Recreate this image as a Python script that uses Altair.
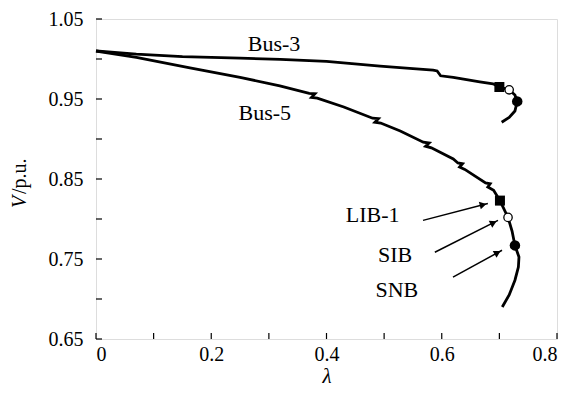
import altair as alt
import pandas as pd

# ---- data ----
bus3_lam = [0.000, 0.070, 0.150, 0.250, 0.320, 0.400, 0.493, 0.550, 0.585, 0.592, 0.598, 0.620,
            0.666, 0.689, 0.700, 0.717, 0.727, 0.731, 0.727, 0.717, 0.704]
bus3_v = [1.010, 1.006, 1.003, 1.001, 0.9995, 0.997, 0.991, 0.988, 0.986, 0.985, 0.979, 0.977,
          0.9715, 0.969, 0.965, 0.9615, 0.955, 0.947, 0.935, 0.927, 0.921]

bus5_lam = [0.000, 0.070, 0.163, 0.250, 0.319, 0.370, 0.380, 0.374, 0.384, 0.430, 0.480, 0.490,
            0.484, 0.494, 0.528, 0.568, 0.578, 0.572, 0.582, 0.620, 0.628, 0.636, 0.631, 0.640,
            0.676, 0.684, 0.680, 0.690, 0.701, 0.715, 0.722, 0.727, 0.734, 0.733, 0.727, 0.717, 0.705]
bus5_v = [1.010, 1.002, 0.989, 0.977, 0.9665, 0.957, 0.9565, 0.952, 0.951, 0.940, 0.926, 0.9255,
          0.921, 0.920, 0.910, 0.896, 0.895, 0.891, 0.889, 0.875, 0.870, 0.869, 0.865, 0.862,
          0.845, 0.844, 0.840, 0.836, 0.823, 0.802, 0.785, 0.767, 0.7525, 0.740, 0.7235, 0.705, 0.690]

# special points: LIB-1 (square), SIB (open circle), SNB (filled circle)
lib_lam = [0.700, 0.701]
lib_v = [0.965, 0.823]
sib_lam = [0.717, 0.715]
sib_v = [0.9615, 0.802]
snb_lam = [0.731, 0.727]
snb_v = [0.947, 0.767]

# labels
label_text = ["Bus-3", "Bus-5", "LIB-1", "SIB", "SNB"]
label_lam = [0.309, 0.293, 0.480, 0.519, 0.522]
label_v = [1.019, 0.933, 0.8045, 0.755, 0.711]

# arrows (start -> tip), head centre and direction
arrow_lam0 = [0.5675, 0.588, 0.6195]
arrow_v0 = [0.7983, 0.7584, 0.7273]
arrow_lam1 = [0.680, 0.6976, 0.7046]
arrow_v1 = [0.8195, 0.7983, 0.7609]
head_lam = [0.6717, 0.6898, 0.6969]
head_v = [0.8178, 0.7954, 0.7579]
head_angle = [345.3, 333.1, 331.1]

x_ticks = [0, 0.1, 0.2, 0.3, 0.4, 0.5, 0.6, 0.7, 0.8]
x_labels = [0, 0.2, 0.4, 0.6, 0.8]
y_ticks = [0.65, 0.70, 0.75, 0.80, 0.85, 0.90, 0.95, 1.00, 1.05]
y_labels = [0.65, 0.75, 0.85, 0.95, 1.05]

FONT = "Liberation Serif"
W, H = 461, 320

lines = pd.concat([
    pd.DataFrame({"lam": bus3_lam, "v": bus3_v, "bus": "Bus-3", "i": range(len(bus3_lam))}),
    pd.DataFrame({"lam": bus5_lam, "v": bus5_v, "bus": "Bus-5", "i": range(len(bus5_lam))}),
])

xs = alt.Scale(domain=[0, 0.8], nice=False, zero=False)
ys = alt.Scale(domain=[0.65, 1.05], nice=False, zero=False)

line = alt.Chart(lines).mark_line(color="black", strokeWidth=2.8).encode(
    x=alt.X("lam:Q", scale=xs, axis=alt.Axis(
        values=x_labels, title="λ", ticks=False, domain=False, grid=False,
        labelExpr="datum.value == 0 ? '0' : format(datum.value, '.1f')",
        labelFont=FONT, labelFontSize=20, labelColor="black", labelPadding=5,
        titleFont=FONT, titleFontSize=21, titleFontStyle="italic", titleFontWeight="normal",
        titleColor="black", titlePadding=1)),
    y=alt.Y("v:Q", scale=ys, axis=alt.Axis(
        values=y_labels, title=None, ticks=False, domain=False, grid=False, format=".2f",
        labelFont=FONT, labelFontSize=20, labelColor="black", labelPadding=13)),
    detail="bus:N",
    order="i:Q",
)

sq = alt.Chart(pd.DataFrame({"lam": lib_lam, "v": lib_v})).mark_point(
    shape="square", filled=True, color="black", size=100, opacity=1).encode(
    x=alt.X("lam:Q", scale=xs), y=alt.Y("v:Q", scale=ys))
oc = alt.Chart(pd.DataFrame({"lam": sib_lam, "v": sib_v})).mark_point(
    shape="circle", filled=True, fill="white", stroke="black", strokeWidth=1.3, size=70, opacity=1).encode(
    x=alt.X("lam:Q", scale=xs), y=alt.Y("v:Q", scale=ys))
fc = alt.Chart(pd.DataFrame({"lam": snb_lam, "v": snb_v})).mark_point(
    shape="circle", filled=True, color="black", size=110, opacity=1).encode(
    x=alt.X("lam:Q", scale=xs), y=alt.Y("v:Q", scale=ys))

labels = alt.Chart(pd.DataFrame({"lam": label_lam, "v": label_v, "t": label_text})).mark_text(
    font=FONT, fontSize=22, color="black", align="center", baseline="middle").encode(
    x=alt.X("lam:Q", scale=xs), y=alt.Y("v:Q", scale=ys), text="t:N")

arrows = alt.Chart(pd.DataFrame({"x0": arrow_lam0, "y0": arrow_v0, "x1": arrow_lam1, "y1": arrow_v1})).mark_rule(
    color="black", strokeWidth=1.5).encode(
    x=alt.X("x0:Q", scale=xs), y=alt.Y("y0:Q", scale=ys), x2="x1:Q", y2="y1:Q")
heads = alt.Chart(pd.DataFrame({"lam": head_lam, "v": head_v, "a": head_angle})).mark_point(
    shape="triangle-right", filled=True, color="black", size=60, opacity=1).encode(
    x=alt.X("lam:Q", scale=xs), y=alt.Y("v:Q", scale=ys),
    angle=alt.Angle("a:Q", scale=None))

yt = alt.Chart(pd.DataFrame({"v": y_ticks})).mark_rule(color="black", strokeWidth=1.2).encode(
    y=alt.Y("v:Q", scale=ys), x=alt.value(0), x2=alt.value(6))
xt = alt.Chart(pd.DataFrame({"lam": x_ticks})).mark_rule(color="black", strokeWidth=1.2).encode(
    x=alt.X("lam:Q", scale=xs), y=alt.value(H), y2=alt.value(H - 6))

ytitle_v = alt.Chart(pd.DataFrame({"t": ["V"]})).mark_text(
    font=FONT, fontSize=20, fontStyle="italic", color="black", angle=270,
    align="left", baseline="middle").encode(text="t:N", x=alt.value(-76), y=alt.value(189))
ytitle_r = alt.Chart(pd.DataFrame({"t": ["/p.u."]})).mark_text(
    font=FONT, fontSize=20, color="black", angle=270,
    align="left", baseline="middle").encode(text="t:N", x=alt.value(-76), y=alt.value(175))

chart = alt.layer(line, yt, xt, arrows, heads, sq, oc, fc, labels, ytitle_v, ytitle_r).properties(
    width=W, height=H, autosize="none",
    padding={"left": 88, "top": 11, "right": 5, "bottom": 53},
).configure_view(stroke="black", strokeWidth=1.3).configure(background="white")

chart.save("out.html", embed_options={"renderer": "svg", "actions": False})
